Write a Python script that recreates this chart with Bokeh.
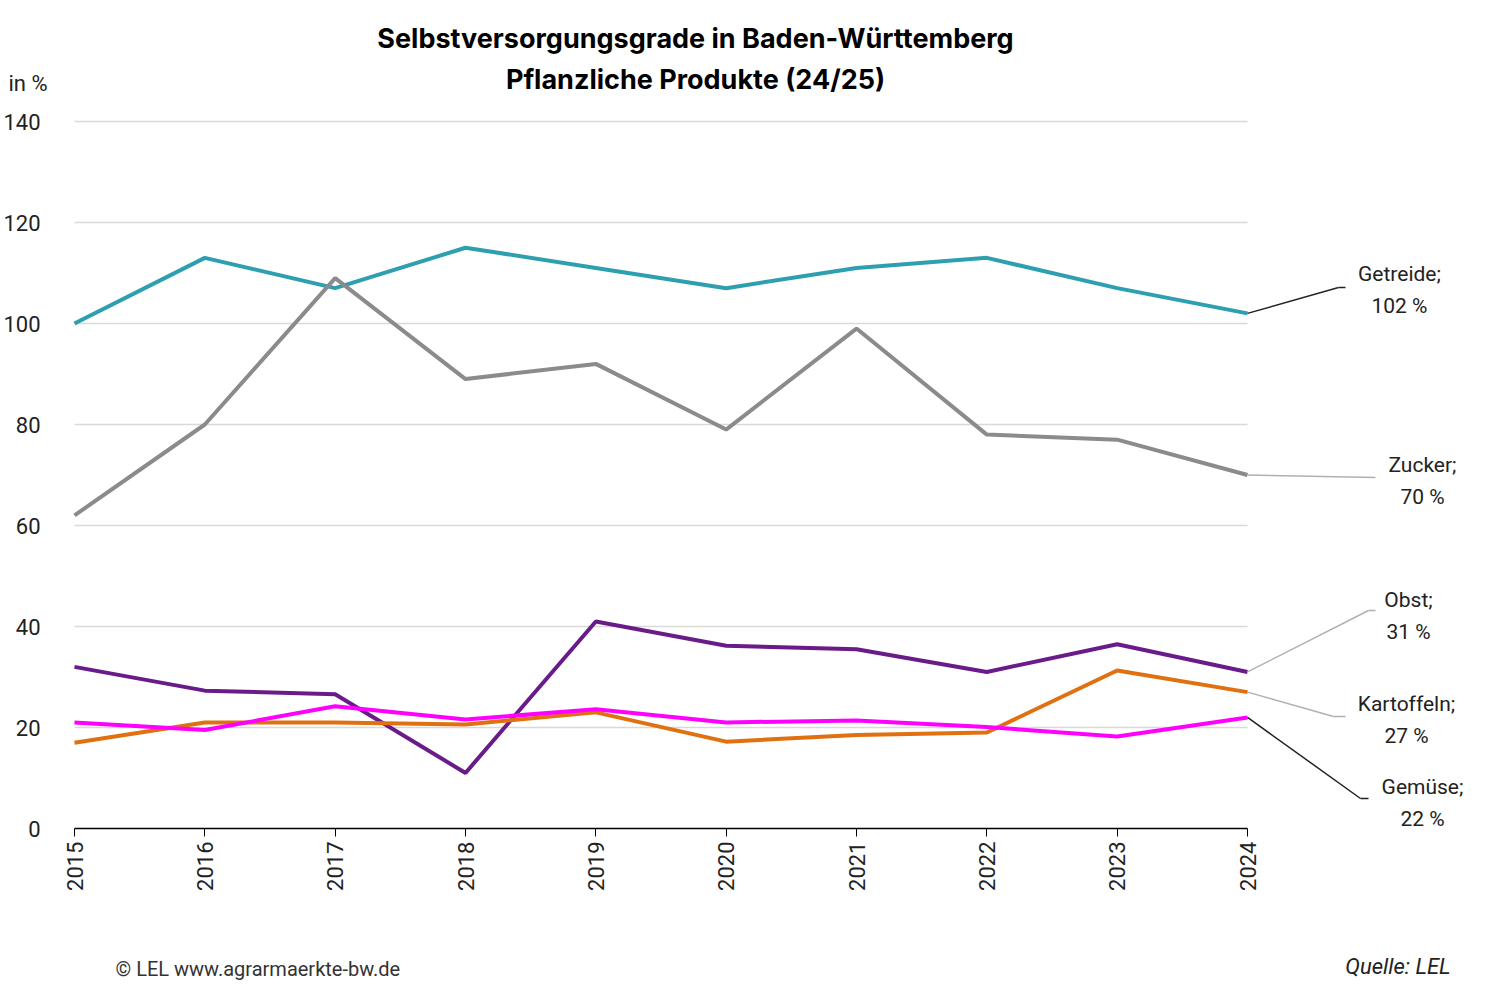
from bokeh.plotting import figure
from bokeh.models import Label, Arrow, Range1d, FixedTicker, LinearAxis
from bokeh.embed import file_html
from bokeh.resources import INLINE

years = list(range(2015, 2025))
getreide = [100, 113, 107, 115, 111, 107, 111, 113, 107, 102]
zucker = [62, 80, 109, 89, 92, 79, 99, 78, 77, 70]
obst = [32, 27.3, 26.6, 11, 41, 36.2, 35.5, 31, 36.5, 31]
kartoffeln = [17, 21, 21, 20.6, 23, 17.2, 18.5, 19, 31.3, 27]
gemuese = [21, 19.5, 24.2, 21.6, 23.6, 21, 21.4, 20.1, 18.2, 22]
yticks = [0, 20, 40, 60, 80, 100, 120, 140]

W, H = 1470, 985
px = 9 / 1173.0
py = 140 / 707.0

def dx(xp):
    return 2015 + (xp - 74) * px

def dy(yp):
    return (828 - yp) * py

p = figure(width=W, height=H, output_backend="svg", toolbar_location=None,
           x_range=Range1d(dx(0), dx(W)), y_range=Range1d(dy(H), dy(0)),
           x_axis_location=None, y_axis_location=None,
           min_border=0)
p.outline_line_color = None
p.center = []

gl = yticks[1:]
p.segment(x0=[years[0]] * len(gl), x1=[years[-1]] * len(gl), y0=gl, y1=gl,
          line_color="#d9d9d9", line_width=1.3)

xa = LinearAxis(fixed_location=0, bounds=(2015, 2024), ticker=FixedTicker(ticks=years))
xa.axis_line_color = "black"
xa.axis_line_width = 1.5
xa.major_tick_line_color = "black"
xa.major_tick_out = 8
xa.major_tick_in = 0
xa.minor_tick_line_color = None
xa.major_label_orientation = 1.5708
xa.major_label_text_font_size = "22px"
xa.major_label_text_font = "Roboto"
xa.major_label_text_color = "#222"
p.add_layout(xa, "below")

ya = LinearAxis(fixed_location=2015, bounds=(0, 140), ticker=FixedTicker(ticks=yticks))
ya.axis_line_color = None
ya.major_tick_line_color = None
ya.minor_tick_line_color = None
ya.major_label_standoff = 28
ya.major_label_text_font_size = "22px"
ya.major_label_text_font = "Roboto"
ya.major_label_text_color = "#222"
p.add_layout(ya, "left")

series = [(getreide, "#2e9fb0"), (zucker, "#8c8a8c"), (obst, "#6a1b8a"),
          (kartoffeln, "#e07010"), (gemuese, "#ff00ff")]
for vals, c in series:
    p.line(years, vals, line_color=c, line_width=4)

def text(t, xp, yp, size="21px", align="center", style="normal", color="#222", font="Roboto"):
    p.add_layout(Label(x=dx(xp), y=dy(yp), text=t, text_align=align, text_baseline="middle",
                       text_font_size=size, text_font=font, text_font_style=style,
                       text_color=color))

def ann(yv, pts, color, lines, tx, ty):
    prev = (years[-1], yv)
    for xp, yp in pts:
        nxt = (dx(xp), dy(yp))
        p.add_layout(Arrow(end=None, x_start=prev[0], y_start=prev[1], x_end=nxt[0], y_end=nxt[1],
                           line_color=color, line_width=1.5))
        prev = nxt
    for i, t in enumerate(lines):
        text(t, tx, ty + i * 32)

ann(getreide[-1], [(1338, 287), (1345, 287)], "#222", ["Getreide;", "102 %"], 1399, 273)
ann(zucker[-1], [(1375, 477)], "#b0b0b0", ["Zucker;", "70 %"], 1422, 464)
ann(obst[-1], [(1368, 610), (1375, 610)], "#b0b0b0", ["Obst;", "31 %"], 1408, 599)
ann(kartoffeln[-1], [(1333, 716), (1345, 716)], "#b0b0b0", ["Kartoffeln;", "27 %"], 1406, 703)
ann(gemuese[-1], [(1360, 798), (1368, 798)], "#222", ["Gemüse;", "22 %"], 1422, 786)

text("Selbstversorgungsgrade in Baden-Württemberg", 695, 38, size="27px", style="bold",
     color="black", font="Inter")
text("Pflanzliche Produkte (24/25)", 695, 79, size="27px", style="bold", color="black", font="Inter")
text("in %", 8, 83, size="22px", align="left")
text("© LEL www.agrarmaerkte-bw.de", 115, 968, size="20px", align="left", color="#333")
text("Quelle: LEL", 1450, 966, size="22px", align="right", style="italic")

open("out.html", "w").write(file_html(p, INLINE))
